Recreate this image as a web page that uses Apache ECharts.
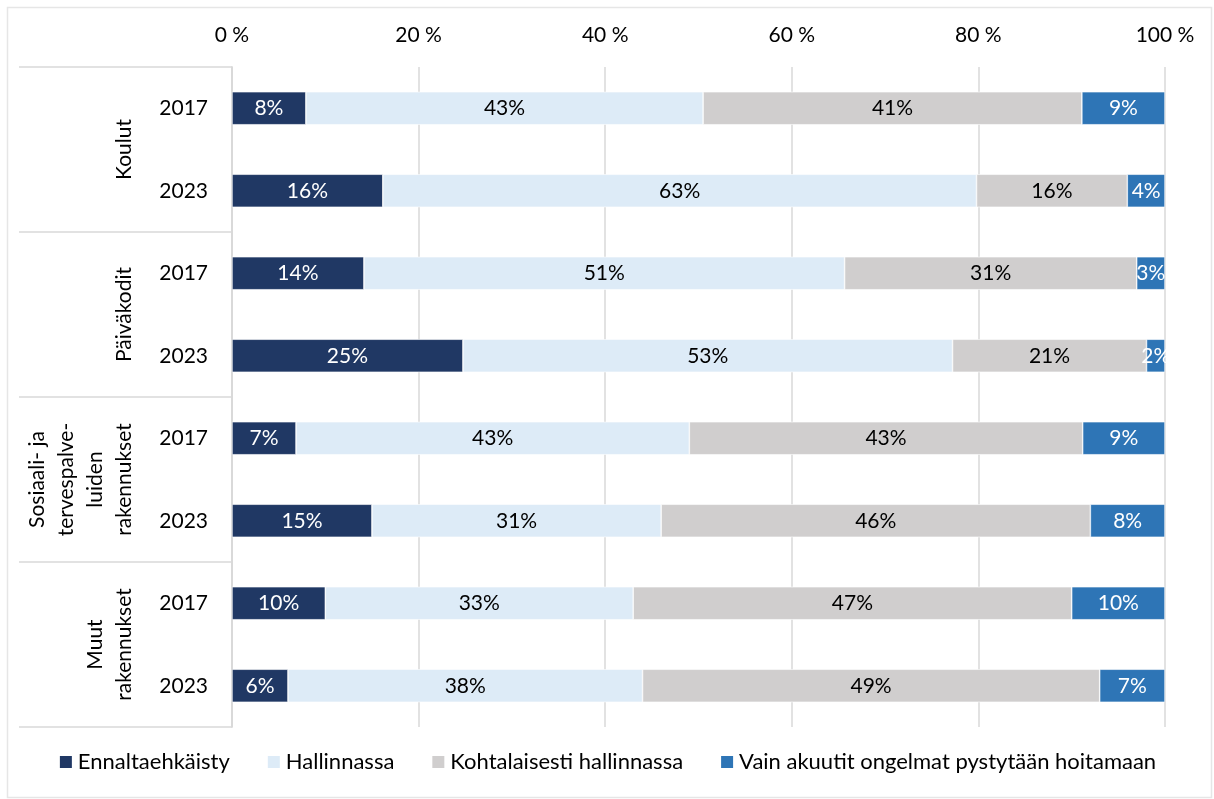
<!DOCTYPE html>
<html>
<head>
<meta charset="utf-8">
<script src="https://cdn.jsdelivr.net/npm/echarts@6/dist/echarts.min.js"></script>
<style>
html,body{margin:0;padding:0;background:#fff;}
#chart{width:1214px;height:799px;}
</style>
</head>
<body>
<div id="chart"></div>
<script>
// Data (percent, as labelled in the chart)
const years = ['2017','2023','2017','2023','2017','2023','2017','2023'];
const groups = ['Koulut','Päiväkodit','Sosiaali- ja\ntervespalve-\nluiden\nrakennukset','Muut\nrakennukset'];
const seriesNames = ['Ennaltaehkäisty','Hallinnassa','Kohtalaisesti hallinnassa','Vain akuutit ongelmat pystytään hoitamaan'];
const ennaltaehkaisty = [8, 16, 14, 25, 7, 15, 10, 6];
const hallinnassa     = [43, 63, 51, 53, 43, 31, 33, 38];
const kohtalaisesti   = [41, 16, 31, 21, 43, 46, 47, 49];
const akuutit         = [9, 4, 3, 2, 9, 8, 10, 7];
const xTicks = [0, 20, 40, 60, 80, 100];

const colors = ['#203864', '#DDEBF7', '#D0CECE', '#2E75B6'];
const labelColors = ['#ffffff', '#000000', '#000000', '#ffffff'];
const raw = [ennaltaehkaisty, hallinnassa, kohtalaisesti, akuutit];
const FONT = 'Lato';

// 100 % stacked: each row scaled to its total
const totals = years.map((_, i) => raw.reduce((s, arr) => s + arr[i], 0));

const series = raw.map((arr, k) => ({
  name: seriesNames[k],
  type: 'bar',
  stack: 'all',
  barWidth: 33,
  data: arr.map((v, i) => v / totals[i] * 100),
  itemStyle: { color: colors[k], borderColor: '#ffffff', borderWidth: 0.6 },
  label: {
    show: true,
    position: 'inside',
    color: labelColors[k],
    fontFamily: FONT,
    fontSize: 21,
    formatter: p => raw[k][p.dataIndex] + '%'
  },
  emphasis: { disabled: true }
}));

const chart = echarts.init(document.getElementById('chart'), null, { renderer: 'canvas' });
chart.setOption({
  animation: false,
  textStyle: { fontFamily: FONT },
  color: colors,
  graphic: [{
    type: 'rect',
    shape: { x: 7.5, y: 7.5, width: 1204, height: 790 },
    style: { fill: 'none', stroke: '#e6e6e6', lineWidth: 1.5 },
    silent: true, z: -1
  }],
  grid: { left: 232, right: 49, top: 67, bottom: 72 },
  legend: {
    data: seriesNames,
    top: 746,
    left: 'center',
    icon: 'rect',
    itemWidth: 14,
    itemHeight: 14,
    itemGap: 36,
    textStyle: { fontFamily: FONT, fontSize: 22, color: '#000' }
  },
  xAxis: {
    type: 'value',
    position: 'top',
    min: xTicks[0],
    max: xTicks[xTicks.length - 1],
    interval: 20,
    axisLine: { show: false },
    axisTick: { show: false },
    axisLabel: { formatter: '{value} %', fontFamily: FONT, fontSize: 21, color: '#000', margin: 21 },
    splitLine: { lineStyle: { color: '#d9d9d9', width: 1.5 } }
  },
  yAxis: [{
    type: 'category',
    data: years,
    inverse: true,
    axisLine: { show: true, lineStyle: { color: '#d9d9d9', width: 1.5 } },
    axisTick: { show: false },
    axisLabel: { fontFamily: FONT, fontSize: 21, color: '#000', margin: 24 }
  }, {
    type: 'category',
    data: groups,
    inverse: true,
    position: 'left',
    axisLine: { show: true, lineStyle: { color: '#d9d9d9', width: 1.5 } },
    axisTick: { show: true, length: 213, lineStyle: { color: '#d9d9d9', width: 1.5 } },
    axisLabel: { rotate: 90, fontFamily: FONT, fontSize: 21, lineHeight: 29, color: '#000', margin: 93 }
  }],
  series: series
});
</script>
</body>
</html>
